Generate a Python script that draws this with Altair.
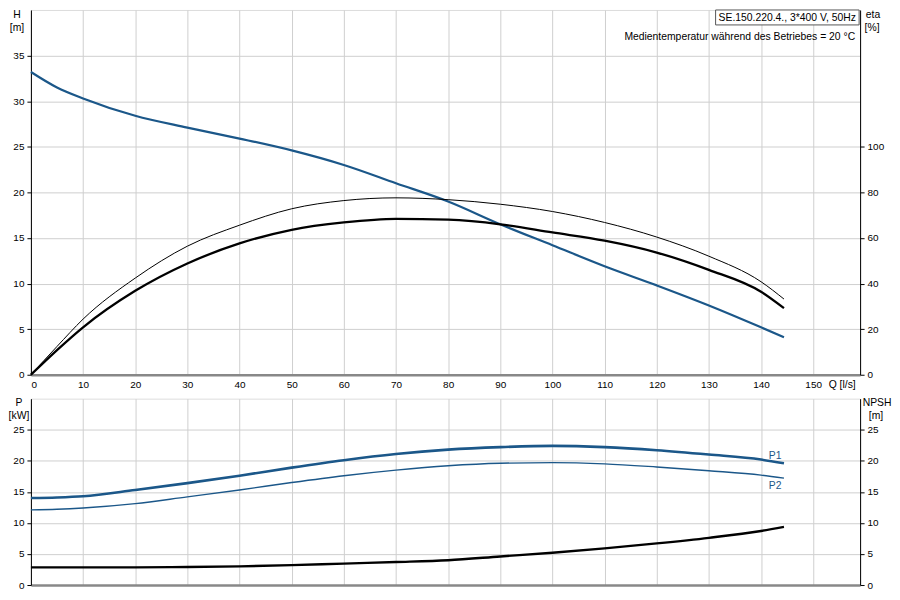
import altair as alt
import pandas as pd

# flow rate Q [l/s] at which the curves were read
q = [0, 5, 10, 20, 30, 40, 50, 60, 70, 80, 90, 100, 110, 120, 130, 140, 144.4]
# head H [m]
head = [33.2, 31.5, 30.3, 28.4, 27.1, 25.9, 24.6, 23.0, 21.0, 19.0, 16.5,
        14.2, 11.9, 9.8, 7.6, 5.2, 4.1]
# efficiencies [%]
eta_pump = [0, 12.4, 24.4, 42.4, 56.4, 65.6, 72.8, 76.4, 77.6, 76.8, 74.8,
            71.6, 66.8, 60.4, 52.0, 40.8, 33.2]
eta_total = [0, 10.8, 20.8, 36.8, 48.8, 57.6, 63.6, 66.8, 68.4, 68.0, 66.0,
             62.4, 58.8, 53.6, 46.0, 36.4, 29.2]
# power [kW]
p1 = [14.0, 14.1, 14.3, 15.3, 16.4, 17.6, 18.9, 20.1, 21.1, 21.8, 22.2,
      22.4, 22.2, 21.7, 21.0, 20.2, 19.6]
p2 = [12.1, 12.2, 12.4, 13.1, 14.2, 15.3, 16.5, 17.6, 18.5, 19.2, 19.6,
      19.7, 19.5, 19.0, 18.4, 17.7, 17.2]
# NPSH [m]
npsh = [2.85, 2.85, 2.85, 2.85, 2.9, 3.0, 3.2, 3.45, 3.7, 4.0, 4.6, 5.2,
        5.9, 6.7, 7.6, 8.7, 9.35]

p_labels = ["P1", "P2"]
p_label_q = [142.7, 142.7]
p_label_y = [20.8, 15.9]

q_ticks = list(range(0, 160, 10))
h_ticks = list(range(0, 40, 5))
eta_ticks = list(range(0, 120, 20))
p_ticks = list(range(0, 30, 5))

BLUE = "#1b5789"
FONT = "Liberation Sans"
FS = 10.4
W = 832
H_TOP = 366
H_BOT = 187

head_df = pd.DataFrame({"q": q, "h": head})
eta_pump_df = pd.DataFrame({"q": q, "eta": eta_pump})
eta_total_df = pd.DataFrame({"q": q, "eta": eta_total})
p1_df = pd.DataFrame({"q": q, "p": p1})
p2_df = pd.DataFrame({"q": q, "p": p2})
npsh_df = pd.DataFrame({"q": q, "npsh": npsh})
lab_df = pd.DataFrame({"q": p_label_q, "p": p_label_y, "label": p_labels})

x_scale = alt.Scale(domain=[0, 159], nice=False)

x_top = alt.X("q:Q", scale=x_scale, axis=alt.Axis(
    values=q_ticks, title=None, ticks=False, labelPadding=5,
    domainColor="#888", domainWidth=2.5, gridColor="#cfcfcf"))

x_bot = alt.X("q:Q", scale=x_scale, axis=alt.Axis(
    values=q_ticks, title=None, labels=False, ticks=False,
    domainColor="#888", domainWidth=2.5, gridColor="#cfcfcf"))


def left_axis(values):
    return alt.Axis(values=values, title=None, orient="left", tickSize=4,
                    tickColor="#000", domainColor="#000",
                    gridColor="#cfcfcf", labelPadding=3)


def right_axis(values):
    return alt.Axis(values=values, title=None, orient="right", tickSize=4,
                    tickColor="#000", domainColor="#000", grid=False,
                    labelPadding=3)


one = alt.Data(values=[{}])


def label(text, x, y, align="center"):
    return alt.Chart(one).mark_text(
        align=align, baseline="middle", font=FONT, fontSize=FS,
        color="#000").encode(x=alt.value(x), y=alt.value(y),
                             text=alt.value(text))


# --- Q-H / efficiency panel ---
head_line = alt.Chart(head_df).mark_line(
    color=BLUE, strokeWidth=2.2, interpolate="monotone").encode(
    x=x_top,
    y=alt.Y("h:Q", scale=alt.Scale(domain=[0, 40], nice=False),
            axis=left_axis(h_ticks)),
)

eta_scale = alt.Scale(domain=[0, 160], nice=False)
eta_thin = alt.Chart(eta_pump_df).mark_line(
    color="#000", strokeWidth=1, interpolate="monotone").encode(
    x=x_top, y=alt.Y("eta:Q", scale=eta_scale, axis=right_axis(eta_ticks)))
eta_thick = alt.Chart(eta_total_df).mark_line(
    color="#000", strokeWidth=2.3, interpolate="monotone").encode(
    x=x_top, y=alt.Y("eta:Q", scale=eta_scale, axis=right_axis(eta_ticks)))

info_box = alt.Chart(one).mark_rect(fill="white", stroke="#555").encode(
    x=alt.value(W - 145), x2=alt.value(W - 1), y=alt.value(0),
    y2=alt.value(15))

top = alt.layer(
    head_line,
    alt.layer(eta_thin, eta_thick),
    info_box,
    label("SE.150.220.4., 3*400 V, 50Hz", W - 142, 8, "left"),
    label("Medientemperatur während des Betriebes = 20 °C", W - 5, 27,
          "right"),
    label("H", -14, 5),
    label("[m]", -14, 18),
    label("eta", W + 13, 5),
    label("[%]", W + 12, 18),
    label("Q [l/s]", W - 18, H_TOP + 10),
).resolve_scale(y="independent").properties(width=W, height=H_TOP)

# --- power / NPSH panel ---
p_scale = alt.Scale(domain=[0, 30], nice=False)
p1_line = alt.Chart(p1_df).mark_line(
    color=BLUE, strokeWidth=2.6, interpolate="monotone").encode(
    x=x_bot, y=alt.Y("p:Q", scale=p_scale, axis=left_axis(p_ticks)))
p2_line = alt.Chart(p2_df).mark_line(
    color=BLUE, strokeWidth=1.4, interpolate="monotone").encode(
    x=x_bot, y=alt.Y("p:Q", scale=p_scale, axis=left_axis(p_ticks)))
p_text = alt.Chart(lab_df).mark_text(
    color=BLUE, font=FONT, fontSize=FS, align="center",
    baseline="middle").encode(
    x=x_bot, y=alt.Y("p:Q", scale=p_scale, axis=left_axis(p_ticks)),
    text="label:N")

npsh_line = alt.Chart(npsh_df).mark_line(
    color="#000", strokeWidth=2.4, interpolate="monotone").encode(
    x=x_bot,
    y=alt.Y("npsh:Q", scale=alt.Scale(domain=[0, 30], nice=False),
            axis=right_axis(p_ticks)),
)

bottom = alt.layer(
    alt.layer(p1_line, p2_line, p_text),
    npsh_line,
    label("P", -12, 4),
    label("[kW]", -12, 17),
    label("NPSH", W + 17, 4),
    label("[m]", W + 16, 17),
).resolve_scale(y="independent").properties(width=W, height=H_BOT)

chart = alt.vconcat(top, bottom, spacing=6, padding=0).configure_view(
    stroke="#888", strokeWidth=1.5
).configure_axis(
    labelFont=FONT, labelFontSize=10, labelColor="#000",
).configure(background="white")

chart.save("out.html", embed_options={"renderer": "svg", "actions": False})
